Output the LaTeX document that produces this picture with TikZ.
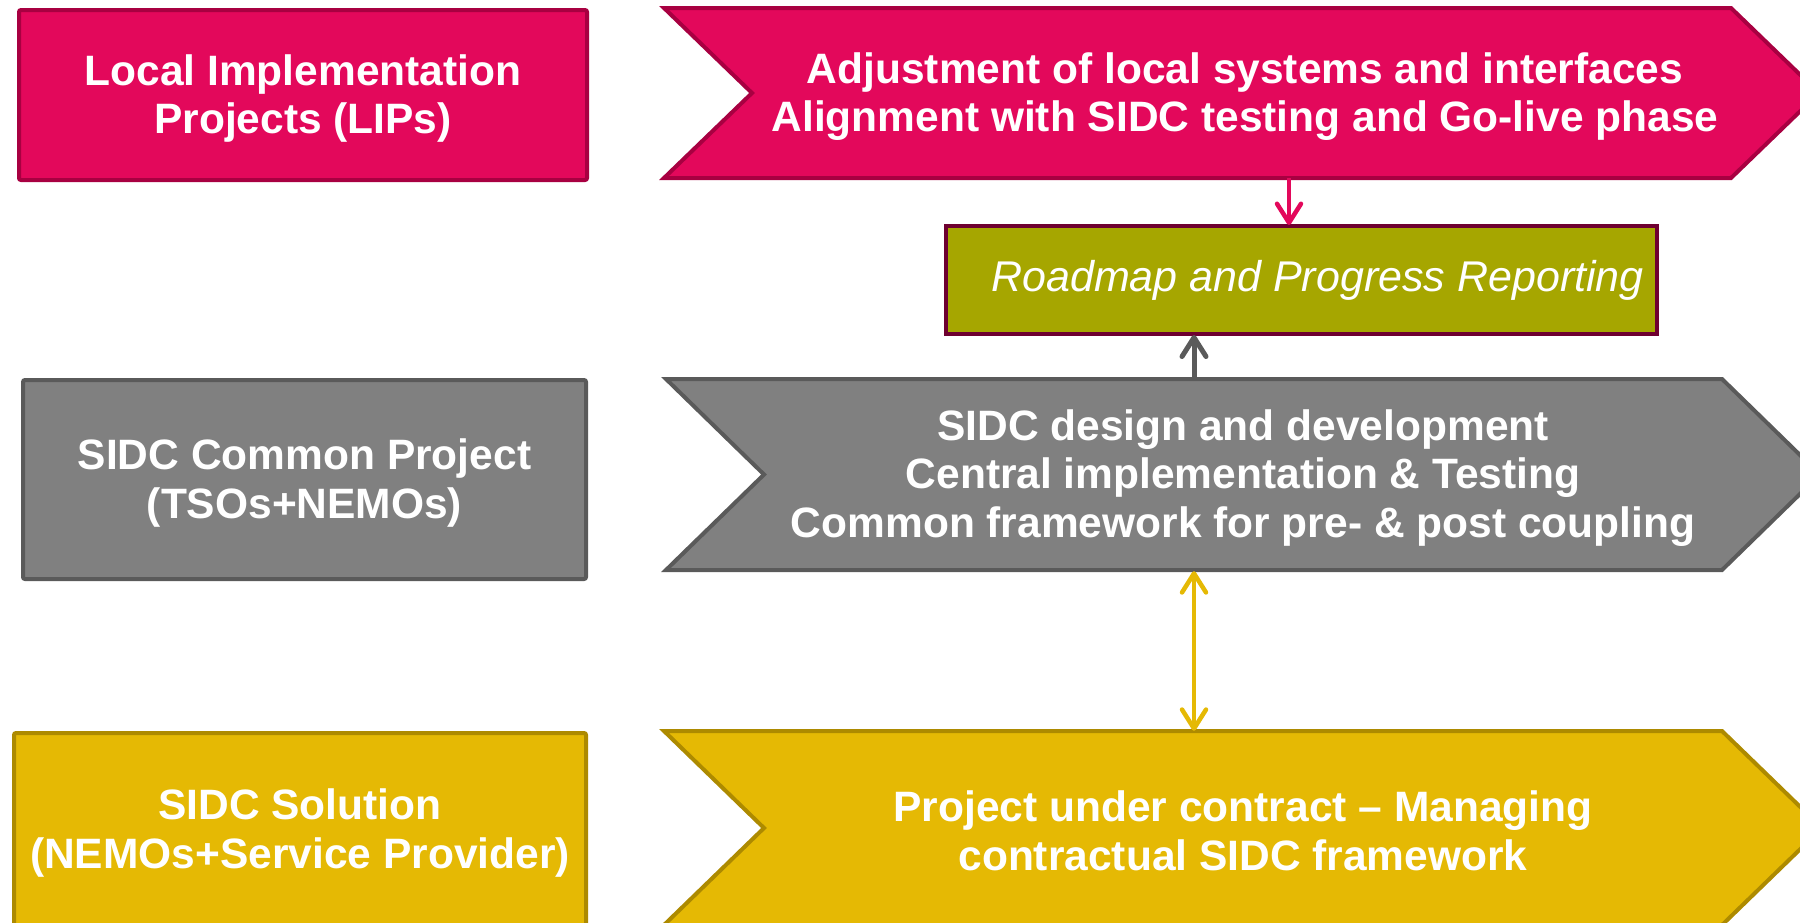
\documentclass[tikz,border=0pt]{standalone}
\usepackage{fontspec}
\setmainfont{Liberation Sans}
\usetikzlibrary{arrows.meta}
\definecolor{pinkF}{HTML}{E3085B}
\definecolor{pinkD}{HTML}{A80041}
\definecolor{greyF}{HTML}{808080}
\definecolor{greyD}{HTML}{5A5A5A}
\definecolor{oliveF}{HTML}{A6A600}
\definecolor{oliveD}{HTML}{6E0030}
\definecolor{yelF}{HTML}{E5B904}
\definecolor{yelD}{HTML}{AD8A00}
\begin{document}
\begin{tikzpicture}[x=1pt,y=-1pt,
  txt/.style={text=white, align=center, inner sep=0pt, font=\fontsize{42.5}{48.5}\selectfont\bfseries},
  leftbox/.style={rectangle, rounded corners=2pt, line width=4pt, anchor=north west},
  chevbox/.style={rectangle, draw=none, inner sep=0pt},
  pinkshape/.style={fill=pinkF, draw=pinkD, line width=4pt, line join=miter},
  greyshape/.style={fill=greyF, draw=greyD, line width=4pt, line join=miter},
  yelshape/.style={fill=yelF, draw=yelD, line width=4pt, line join=miter},
  tipb/.tip={Straight Barb[length=19pt,width=24pt,round]},
  barb/.style={-tipb},
  dbarb/.style={tipb-tipb}
]
\useasboundingbox (0,0) rectangle (1800,922);
\clip (0,0) rectangle (1800,922);

% left boxes
\node[leftbox, fill=pinkF, draw=pinkD, minimum width=568pt, minimum height=170pt] (lip) at (17,8) {};
\node[txt] (lipT) at ([yshift=-3.5pt]lip.center) {Local Implementation\\Projects (LIPs)};
\node[leftbox, fill=greyF, draw=greyD, minimum width=563pt, minimum height=199pt] (cp) at (21,378) {};
\node[txt] (cpT) at ([yshift=-3.5pt]cp.center) {SIDC Common Project\\(TSOs+NEMOs)};
\node[leftbox, fill=yelF, draw=yelD, minimum width=572pt, minimum height=194pt] (sol) at (12,731) {};
\node[txt] (solT) at ([yshift=-3pt]sol.center) {SIDC Solution\\(NEMOs+Service Provider)};

% chevrons
\draw[pinkshape] (664,8) -- (1731,8) -- (1819,93) -- (1731,178) -- (664,178) -- (752,93) -- cycle;
\node[chevbox, minimum width=979pt, minimum height=170pt] (adj) at (1245,93) {};
\node[txt] (adjT) at ([yshift=-3.5pt]adj.center)
  {Adjustment of local systems and interfaces\\Alignment with SIDC testing and Go-live phase};

\draw[greyshape] (666,379) -- (1722,379) -- (1820,474.5) -- (1722,570) -- (666,570) -- (764,474.5) -- cycle;
\node[chevbox, minimum width=958pt, minimum height=191pt] (dev) at (1243,474.5) {};
\node[txt] (devT) at ([yshift=-3.5pt]dev.center)
  {SIDC design and development\\Central implementation \& Testing\\Common framework for pre- \& post coupling};

\draw[yelshape] (664,731) -- (1722,731) -- (1822,828) -- (1722,925) -- (664,925) -- (764,828) -- cycle;
\node[chevbox, minimum width=958pt, minimum height=194pt] (pc) at (1243,828) {};
\node[txt] (pcT) at ([yshift=-3pt]pc.center)
  {Project under contract -- Managing\\contractual SIDC framework};

% roadmap box
\node[rectangle, fill=oliveF, draw=oliveD, line width=4pt, minimum width=711pt, minimum height=108pt,
  anchor=north west] (rm) at (944,224) {};
\node[text=white, font=\fontsize{43}{48}\selectfont\itshape, inner sep=0pt] (rmT) at ([xshift=16pt]rm.center)
  {Roadmap and Progress Reporting};

% connectors
\coordinate (xa) at (1289,0);
\coordinate (xb) at (1194,0);
\draw[barb, draw=pinkF, line width=4.5pt] (adj.south -| xa) -- ([yshift=-1pt]rm.north -| xa);
\draw[barb, draw=greyD, line width=5pt] ([yshift=-1pt]dev.north -| xb) -- ([yshift=1pt]rm.south -| xb);
\draw[dbarb, draw=yelF, line width=4.5pt] ([yshift=-1pt]dev.south -| xb) -- (pc.north -| xb);
\end{tikzpicture}
\end{document}
